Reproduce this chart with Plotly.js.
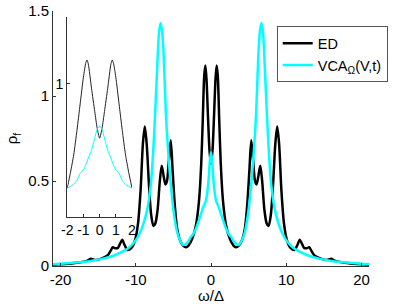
<!DOCTYPE html>
<html>
<head>
<meta charset="utf-8">
<script src="https://cdn.plot.ly/plotly-3.0.1.min.js"></script>
<style>html,body{margin:0;padding:0;background:#fff;}#chart{width:399px;height:304px;}</style>
</head>
<body>
<div id="chart"></div>
<script>
// Main panel: spectral function, ED (black)
const omegaED = [-21,-19,-17.5,-16.5,-16.0,-15.3,-14.5,-13.8,-13.4,-13.05,-12.75,-12.4,-12.1,-11.8,-11.5,-11.1,-10.6,-10.1,-9.7,-9.35,-9.05,-8.8,-8.55,-8.25,-7.95,-7.65,-7.4,-7.1,-6.8,-6.55,-6.3,-6.05,-5.85,-5.6,-5.35,-5.1,-4.8,-4.5,-4.1,-3.7,-3.3,-3.0,-2.5,-2.0,-1.6,-1.3,-1.1,-0.9,-0.75,-0.6,-0.4,-0.2,0,0.2,0.4,0.6,0.75,0.9,1.1,1.3,1.6,2.0,2.5,3.0,3.3,3.7,4.1,4.5,4.8,5.1,5.35,5.6,5.85,6.05,6.3,6.55,6.8,7.1,7.4,7.65,7.95,8.25,8.55,8.8,9.05,9.35,9.7,10.1,10.6,11.1,11.5,11.8,12.1,12.4,12.75,13.05,13.4,13.8,14.5,15.3,16.0,16.5,17.5,19,21];
const rhoED = [0.008,0.013,0.02,0.03,0.042,0.035,0.045,0.06,0.085,0.11,0.105,0.105,0.13,0.155,0.125,0.094,0.105,0.15,0.25,0.45,0.72,0.82,0.72,0.48,0.3,0.235,0.25,0.33,0.5,0.59,0.53,0.48,0.5,0.62,0.74,0.56,0.35,0.22,0.15,0.12,0.11,0.12,0.16,0.24,0.38,0.6,0.85,1.12,1.18,1.10,0.88,0.68,0.60,0.68,0.88,1.10,1.18,1.12,0.85,0.6,0.38,0.24,0.16,0.12,0.11,0.12,0.15,0.22,0.35,0.56,0.74,0.62,0.5,0.48,0.53,0.59,0.5,0.33,0.25,0.235,0.3,0.48,0.72,0.82,0.72,0.45,0.25,0.15,0.105,0.094,0.125,0.155,0.13,0.105,0.105,0.11,0.085,0.06,0.045,0.035,0.042,0.03,0.02,0.013,0.008];

// Main panel: VCA_Omega(V,t) (cyan)
const omegaVCA = [-21,-18,-16,-14.5,-13,-12,-11,-10.2,-9.5,-8.9,-8.4,-8.0,-7.7,-7.4,-7.1,-6.9,-6.7,-6.5,-6.3,-6.0,-5.7,-5.3,-4.9,-4.5,-4.1,-3.7,-3.4,-3.0,-2.7,-2.4,-2.0,-1.6,-1.3,-1.0,-0.7,-0.5,-0.3,-0.15,0,0.15,0.3,0.5,0.7,1.0,1.3,1.6,2.0,2.4,2.7,3.0,3.4,3.7,4.1,4.5,4.9,5.3,5.7,6.0,6.3,6.5,6.7,6.9,7.1,7.4,7.7,8.0,8.4,8.9,9.5,10.2,11,12,13,14.5,16,18,21];
const rhoVCA = [0.01,0.02,0.03,0.042,0.06,0.08,0.105,0.14,0.19,0.26,0.35,0.48,0.66,0.92,1.22,1.38,1.43,1.38,1.25,0.9,0.68,0.46,0.3,0.2,0.15,0.124,0.128,0.145,0.17,0.185,0.22,0.27,0.31,0.35,0.38,0.43,0.52,0.62,0.67,0.62,0.52,0.43,0.38,0.35,0.31,0.27,0.22,0.185,0.17,0.145,0.128,0.124,0.15,0.2,0.3,0.46,0.68,0.9,1.25,1.38,1.43,1.38,1.22,0.92,0.66,0.48,0.35,0.26,0.19,0.14,0.105,0.08,0.06,0.042,0.03,0.02,0.01];

// Inset
const omegaInset = [-2,-1.8,-1.6,-1.4,-1.2,-1.0,-0.85,-0.78,-0.7,-0.5,-0.3,-0.15,0,0.15,0.3,0.5,0.7,0.78,0.85,1.0,1.2,1.4,1.6,1.8,2];
const rhoInsetED = [0.53,0.6,0.68,0.79,0.91,1.03,1.095,1.107,1.09,0.98,0.875,0.8,0.755,0.8,0.875,0.98,1.09,1.107,1.095,1.03,0.91,0.79,0.68,0.6,0.53];
const rhoInsetVCA = [0.53,0.538,0.547,0.565,0.597,0.612,0.635,0.648,0.665,0.70,0.755,0.795,0.81,0.795,0.755,0.70,0.665,0.648,0.635,0.612,0.597,0.565,0.547,0.538,0.53];

// Tick labels
const xTickVals = [-20,-10,0,10,20];
const xTickText = ['-20','-10','0','10','20'];
const yTickVals = [0,0.5,1,1.5];
const yTickText = ['0','0.5','1','1.5'];
const insetXTickVals = [-2,-1,0,1,2];
const insetXTickText = ['-2','-1','0','1','2'];
const insetYTickVals = [1];
const insetYTickText = ['1'];

const FONT = 'Liberation Sans, Arial, sans-serif';
const AX = '#333333';

const traces = [
  {x: omegaED, y: rhoED, type: 'scatter', mode: 'lines', name: 'ED',
   line: {color: '#000000', width: 2.5, shape: 'spline', smoothing: 0.8}, xaxis: 'x', yaxis: 'y'},
  {x: omegaVCA, y: rhoVCA, type: 'scatter', mode: 'lines', name: 'VCA<sub>Ω</sub>(V,t)',
   line: {color: '#00FFFF', width: 2.5, shape: 'spline', smoothing: 0.8}, xaxis: 'x', yaxis: 'y'},
  {x: omegaInset, y: rhoInsetED, type: 'scatter', mode: 'lines', showlegend: false,
   line: {color: '#222222', width: 1, shape: 'spline', smoothing: 0.6}, xaxis: 'x2', yaxis: 'y2'},
  {x: omegaInset, y: rhoInsetVCA, type: 'scatter', mode: 'lines', showlegend: false,
   line: {color: '#00FFFF', width: 1, shape: 'spline', smoothing: 0.6}, xaxis: 'x2', yaxis: 'y2'}
];

const layout = {
  width: 399, height: 304,
  margin: {l: 53, r: 18, t: 11, b: 38},
  paper_bgcolor: '#ffffff', plot_bgcolor: 'rgba(0,0,0,0)',
  font: {family: FONT, size: 14, color: '#000'},
  showlegend: true,
  legend: {x: 0.708, y: 0.94, xanchor: 'left', yanchor: 'top',
           bgcolor: '#ffffff', bordercolor: '#555555', borderwidth: 1,
           font: {family: FONT, size: 14.5, color: '#000'}, tracegroupgap: 0, itemwidth: 30},
  xaxis: {domain: [0, 1], range: [-21, 21], tickvals: xTickVals, ticktext: xTickText,
          ticks: 'inside', ticklen: 3, tickcolor: AX, showline: true, linecolor: AX, linewidth: 1,
          showgrid: false, zeroline: false, mirror: false,
          tickfont: {family: FONT, size: 15},
          title: {text: 'ω/Δ', font: {family: FONT, size: 15}, standoff: 2}},
  yaxis: {domain: [0, 1], range: [0, 1.5], tickvals: yTickVals, ticktext: yTickText,
          ticks: 'inside', ticklen: 3, tickcolor: AX, showline: true, linecolor: AX, linewidth: 1,
          showgrid: false, zeroline: false,
          tickfont: {family: FONT, size: 15},
          title: {text: 'ρ<sub>f</sub>', font: {family: FONT, size: 15}, standoff: 6}},
  xaxis2: {domain: [0.045, 0.25], range: [-2, 2], anchor: 'y2',
           tickvals: insetXTickVals, ticktext: insetXTickText,
           ticks: 'inside', ticklen: 3, tickcolor: AX, showline: true, linecolor: AX, linewidth: 1,
           showgrid: false, zeroline: false, tickfont: {family: FONT, size: 14}},
  yaxis2: {domain: [0.192, 0.976], range: [0.4, 1.3], anchor: 'x2',
           tickvals: insetYTickVals, ticktext: insetYTickText,
           ticks: 'inside', ticklen: 3, tickcolor: AX, showline: true, linecolor: AX, linewidth: 1,
           showgrid: false, zeroline: false, tickfont: {family: FONT, size: 14}}
};

Plotly.newPlot('chart', traces, layout, {staticPlot: true, displayModeBar: false});
</script>
</body>
</html>
